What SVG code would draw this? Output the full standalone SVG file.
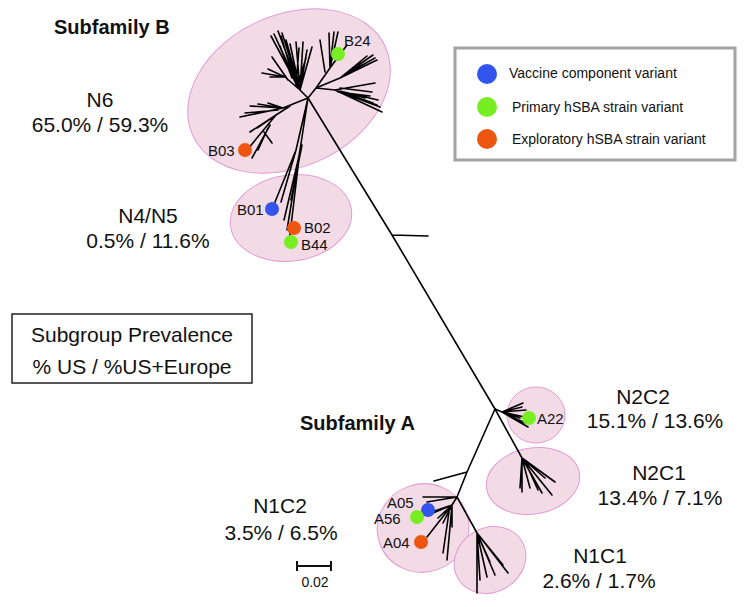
<svg xmlns="http://www.w3.org/2000/svg" width="750" height="607" viewBox="0 0 750 607">
<style>
.cl{fill:#f3dbe6;stroke:#e39ad6;stroke-width:1}
.tr{fill:none;stroke:#000;stroke-width:1.6;stroke-linecap:round;stroke-linejoin:round}
.lb{font-family:"Liberation Sans",Arial,sans-serif;font-size:15px;fill:#111}
.big{font-family:"Liberation Sans",Arial,sans-serif;font-size:21px;fill:#111;text-anchor:middle}
.sf{font-family:"Liberation Sans",Arial,sans-serif;font-size:20px;font-weight:bold;fill:#111}
.lg{font-family:"Liberation Sans",Arial,sans-serif;font-size:14px;fill:#111}
.blue{fill:#3355ee}.green{fill:#77ee22}.orange{fill:#ee5511}
</style>
<rect width="750" height="607" fill="#fff"/>
<g id="cluster-N6"><ellipse class="cl" cx="289" cy="91" rx="106" ry="76" transform="rotate(-25 289 91)"/></g>
<g id="cluster-N4N5"><ellipse class="cl" cx="291" cy="218" rx="61" ry="43" transform="rotate(-8 291 218)"/></g>
<g id="cluster-N2C2"><ellipse class="cl" cx="536" cy="415" rx="29" ry="28"/></g>
<g id="cluster-N2C1"><ellipse class="cl" cx="533" cy="481" rx="47" ry="33" transform="rotate(-10 533 481)"/></g>
<g id="cluster-N1C2"><ellipse class="cl" cx="423" cy="528" rx="46" ry="44" transform="rotate(-20 423 528)"/></g>
<g id="cluster-N1C1"><ellipse class="cl" cx="490" cy="560" rx="37" ry="32" transform="rotate(-30 490 560)"/></g>
<g id="connectors">
<path class="tr" d="M308,98 L392,235 L495,409 M392,235 L428,236"/>
<path class="tr" d="M308,98 L300,90 M300,90 L271,36 M300,90 L274,34 M300,90 L278,31 M300,90 L282,33 M300,90 L286,40 M300,90 L290,44 M300,90 L296,42 M300,90 L303,42 M300,90 L307,50 M300,90 L312,47 M296,84 L276,38 M294,80 L281,36 M300,90 L285,77 L270,77 M285,77 L262,73 M285,77 L268,69 M288,80 L272,57 M292,78 L280,46 M298,84 L306,58 M296,86 L299,48"/>
<path class="tr" d="M308,98 L316,88 L330,68 L329,33 M330,68 L334,32 M330,68 L338,32 M325,72 L320,40 M330,68 L347,45 M316,88 L340,78 L373,55 M340,78 L377,60 M340,78 L367,56 M340,78 L360,62 M345,74 L368,62 M350,72 L375,58 M316,88 L335,90 L375,83 M335,90 L378,100 M335,90 L380,107 M335,90 L382,112 M335,90 L373,103 M335,90 L365,98 M340,88 L372,92 M338,92 L370,96 M342,93 L377,105"/>
<path class="tr" d="M308,98 L283,108 L250,106 M283,108 L240,117 M283,108 L268,103 M283,108 L258,104 M278,110 L245,113 M290,106 L276,115 L247,150 M276,115 L250,132 M276,115 L257,128 M270,125 L252,158 M268,128 L258,150 M264,132 L272,143"/>
<path class="tr" d="M308,98 L296,150 L273,207 M296,150 L281,202 M308,98 L300,150 L289,243 M300,150 L287,230 M300,152 L284,220 M302,145 L291,200"/>
<path class="tr" d="M495,409 L502,412 L523,403 M502,412 L522,407 M502,412 L526,410 M502,412 L529,418 M502,412 L520,418 M502,412 L525,423 M502,412 L528,427"/>
<path class="tr" d="M495,409 L522,458 L520,488 M522,458 L522,492 M522,458 L530,488 M522,458 L542,493 M522,458 L552,495 M522,458 L555,482 M522,458 L545,478 M528,468 L538,490"/>
<path class="tr" d="M495,409 L467,472 L434,481 M467,472 L457,497 L423,497 M457,497 L427,502 M457,497 L452,505 L447,560 M452,505 L452,527 M452,505 L443,523 M452,505 L438,518 M452,505 L433,513 M452,505 L427,537 M449,512 L443,553 M452,505 L417,517"/>
<path class="tr" d="M457,497 L477,533 L477,593 M477,533 L480,580 M477,533 L487,577 M477,533 L495,575 M477,533 L508,573 M477,533 L503,565 M477,533 L490,562"/>
</g>
<g id="B24"><circle class="green" cx="338" cy="54" r="7"/><text class="lb" x="344" y="46">B24</text></g>
<g id="B03"><circle class="orange" cx="245" cy="150" r="7"/><text class="lb" x="208" y="156">B03</text></g>
<g id="B01"><circle class="blue" cx="272" cy="209" r="7"/><text class="lb" x="237" y="215">B01</text></g>
<g id="B02"><circle class="orange" cx="294" cy="228" r="7"/><text class="lb" x="304" y="233">B02</text></g>
<g id="B44"><circle class="green" cx="291" cy="242" r="7"/><text class="lb" x="301" y="250">B44</text></g>
<g id="A22"><circle class="green" cx="529" cy="418" r="7"/><text class="lb" x="537" y="424">A22</text></g>
<g id="A05"><circle class="blue" cx="428" cy="510" r="7"/><text class="lb" x="387" y="508">A05</text></g>
<g id="A56"><circle class="green" cx="417" cy="517" r="7"/><text class="lb" x="374" y="524">A56</text></g>
<g id="A04"><circle class="orange" cx="421" cy="542" r="7"/><text class="lb" x="383" y="548">A04</text></g>
<g id="labels">
<text class="sf" x="54" y="34">Subfamily B</text>
<text class="sf" x="300" y="430">Subfamily A</text>
<text class="big" x="100" y="107">N6</text>
<text class="big" x="100" y="132">65.0% / 59.3%</text>
<text class="big" x="148" y="223">N4/N5</text>
<text class="big" x="148" y="248">0.5% / 11.6%</text>
<text class="big" x="643" y="404">N2C2</text>
<text class="big" x="655" y="428">15.1% / 13.6%</text>
<text class="big" x="659" y="480">N2C1</text>
<text class="big" x="660" y="505">13.4% / 7.1%</text>
<text class="big" x="600" y="563">N1C1</text>
<text class="big" x="599" y="588">2.6% / 1.7%</text>
<text class="big" x="280" y="513">N1C2</text>
<text class="big" x="281" y="540">3.5% / 6.5%</text>
</g>
<g id="prevalence-box">
<rect x="12" y="314" width="240" height="69" fill="#fff" stroke="#222" stroke-width="1.5"/>
<text class="big" x="132" y="342">Subgroup Prevalence</text>
<text class="big" x="132" y="374">% US / %US+Europe</text>
</g>
<g id="scale">
<path d="M297,566 H331 M297,561 V571 M331,561 V571" stroke="#111" stroke-width="2" fill="none"/>
<text x="315" y="587" font-family="Liberation Sans, Arial, sans-serif" font-size="14" text-anchor="middle" fill="#111">0.02</text>
</g>
<g id="legend">
<rect x="455" y="48" width="280" height="112" fill="#fff" stroke="#a3a3a3" stroke-width="3"/>
<circle class="blue" cx="487" cy="74" r="10"/>
<circle class="green" cx="487" cy="107" r="10"/>
<circle class="orange" cx="487" cy="139" r="10"/>
<text class="lg" x="509" y="78">Vaccine component variant</text>
<text class="lg" x="512" y="112">Primary hSBA strain variant</text>
<text class="lg" x="512" y="144">Exploratory hSBA strain variant</text>
</g>
</svg>
